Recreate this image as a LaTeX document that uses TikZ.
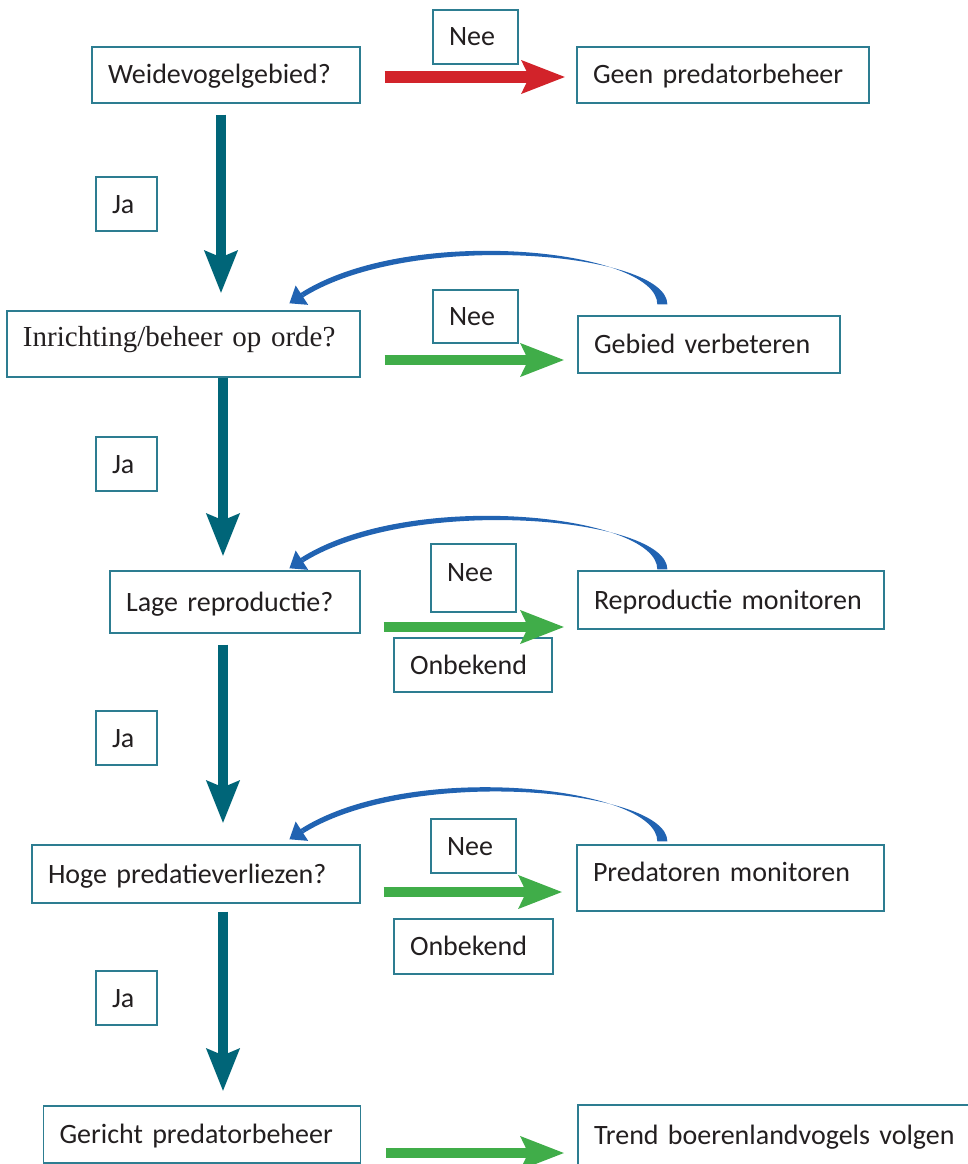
\documentclass[tikz,border=0pt]{standalone}
\usepackage{fontspec}
\setmainfont{Carlito}
\newfontfamily\qserif{Liberation Serif}
\usetikzlibrary{arrows.meta,calc}
\definecolor{tealc}{RGB}{0,101,120}
\definecolor{redc}{RGB}{210,35,42}
\definecolor{greenc}{RGB}{64,173,73}
\definecolor{loopc}{RGB}{33,99,178}
\definecolor{boxc}{RGB}{45,125,145}
\definecolor{txtc}{RGB}{35,31,32}
\tikzset{
  fbox/.style={draw=boxc, line width=1.3pt, fill=white, rectangle, align=left,
    inner xsep=16pt, inner ysep=0pt, text=txtc,
    font=\fontsize{28}{32}\selectfont, text height=20pt, text depth=2pt},
  serifbox/.style={font=\qserif\fontsize{29}{33}\selectfont, text height=21.2pt, text depth=17pt},
  jaarrow/.style={draw=tealc, line width=10pt, -{Stealth[length=42pt,width=32pt,inset=6pt]}},
  neearrow/.style={draw=redc, line width=11pt, -{Stealth[length=43pt,width=32pt,inset=7pt]}},
  goarrow/.style={draw=greenc, line width=10pt, -{Stealth[length=43pt,width=32pt,inset=7pt]}},
}
\newcommand\backloop[2]{%
  \path ($(#2)+(13.4,-8.7)$) coordinate (#2h);
  \fill[loopc] ($(#1)+(-5,0)$) .. controls ($(#1)+(-5,-55)$) and ($(#2)+(122,-80)$) .. ($(#2h)+(-1.4,-2.1)$)
     -- ($(#2h)+(1.4,2.1)$) .. controls ($(#2)+(124,-74)$) and ($(#1)+(5,-52)$) .. ($(#1)+(5,0)$) -- cycle;
  \draw[loopc, line width=5pt, -{Triangle[length=15pt,width=22pt]}] (#2h) -- (#2);
}
\begin{document}
\begin{tikzpicture}[x=1pt,y=-1pt]
\useasboundingbox (0,0) rectangle (968,1164);
\clip (0,0) rectangle (968,1164);
% question boxes
\node[fbox, minimum height=56pt, text width=236pt] (q1) at (226,75) {Weidevogelgebied?};
\node[fbox, serifbox, minimum height=66pt, text width=321pt] (q2) at (183.5,344) {Inrichting/beheer op orde?};
\node[fbox, minimum height=62pt, text width=218pt] (q3) at (235,602) {Lage reproductie?};
\node[fbox, minimum height=58pt, text width=296pt] (q4) at (196,874) {Hoge predatieverliezen?};
\node[fbox, minimum height=57pt, text width=285pt] (q5) at (202,1134.5) {Gericht predatorbeheer};
% result boxes
\node[fbox, minimum height=56pt, text width=260pt] (r1) at (723,75) {Geen predatorbeheer};
\node[fbox, minimum height=57pt, text width=230pt] (r2) at (709,344.5) {Gebied verbeteren};
\node[fbox, minimum height=58pt, text width=274pt] (r3) at (731,600) {Reproductie monitoren};
\node[fbox, minimum height=66pt, text width=275pt, text depth=13pt] (r4) at (730.5,878) {Predatoren monitoren};
\node[fbox, minimum height=60pt, text width=388pt] (r5) at (788,1135) {Trend boerenlandvogels volgen};
% labels
\node[fbox, minimum height=54pt, text width=53pt] (nee1) at (475.5,37) {Nee};
\node[fbox, minimum height=53pt, text width=53pt] (nee2) at (475.5,316.5) {Nee};
\node[fbox, minimum height=68pt, text width=53pt, text depth=14pt] (nee3) at (473.5,578) {Nee};
\node[fbox, minimum height=54pt, text width=53pt] (nee4) at (473.5,846) {Nee};
\node[fbox, minimum height=54pt, text width=126pt] (onb1) at (473,665) {Onbekend};
\node[fbox, minimum height=55pt, text width=127pt] (onb2) at (473.5,946.5) {Onbekend};
\node[fbox, minimum height=54pt, text width=29pt] (ja1) at (126.5,204) {Ja};
\node[fbox, minimum height=54pt, text width=29pt] (ja2) at (126.5,464) {Ja};
\node[fbox, minimum height=54pt, text width=29pt] (ja3) at (126.5,738) {Ja};
\node[fbox, minimum height=54pt, text width=29pt] (ja4) at (126.5,998) {Ja};
% spine and levels
\coordinate (spa) at (221,0);
\coordinate (spb) at (223,0);
\coordinate (h1) at (0,77);
\coordinate (h2) at (0,360);
\coordinate (h3) at (0,627);
\coordinate (h4) at (0,892);
\coordinate (h5) at (0,1153);
% vertical Ja arrows
\draw[jaarrow] ($(q1.south -| spa)+(0,11)$) -- ($(q2.north -| spa)+(0,-17)$);
\draw[jaarrow] ($(q2.south -| spb)+(0,0)$) -- ($(q3.north -| spb)+(0,-14)$);
\draw[jaarrow] ($(q3.south -| spb)+(0,11)$) -- ($(q4.north -| spb)+(0,-21)$);
\draw[jaarrow] ($(q4.south -| spb)+(0,8)$) -- ($(q5.north -| spb)+(0,-14)$);
% horizontal arrows
\draw[neearrow] ($(q1.east |- h1)+(24,0)$) -- ($(r1.west |- h1)+(-11,0)$);
\draw[goarrow] ($(q2.east |- h2)+(24,0)$) -- ($(r2.west |- h2)+(-13,0)$);
\draw[goarrow] ($(q3.east |- h3)+(23,0)$) -- ($(r3.west |- h3)+(-13,0)$);
\draw[goarrow] ($(q4.east |- h4)+(23,0)$) -- ($(r4.west |- h4)+(-14,0)$);
\draw[goarrow] ($(q5.east |- h5)+(25,0)$) -- ($(r5.west |- h5)+(-13,0)$);
% loop-back arrows
\coordinate (s2) at ($(r2.north west)+(85,-11)$);
\coordinate (e2) at ($(q2.north west)+(283,-7)$);
\coordinate (s3) at ($(r3.north west)+(85,-1)$);
\coordinate (e3) at ($(q3.north west)+(180,-2)$);
\coordinate (s4) at ($(r4.north west)+(86,-3)$);
\coordinate (e4) at ($(q4.north west)+(258,-5)$);
\backloop{s2}{e2}
\backloop{s3}{e3}
\backloop{s4}{e4}
\end{tikzpicture}
\end{document}
